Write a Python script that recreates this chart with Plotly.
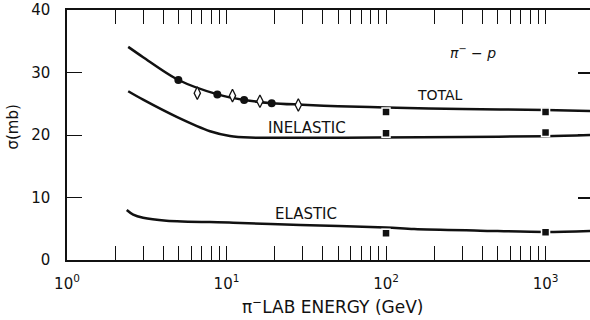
import math
import plotly.graph_objects as go

# ---- data ----
total_curve_E = [2.42, 3.0, 5.0, 8.8, 12.9, 19.2, 30, 50, 100, 300, 1000, 1900]
total_curve_s = [34.1, 32.45, 28.8, 26.5, 25.6, 25.1, 24.85, 24.6, 24.4, 24.15, 24.0, 23.85]

inel_curve_E = [2.42, 3.0, 4.87, 7.88, 10.5, 14, 30, 86, 300, 1000, 1900]
inel_curve_s = [27.0, 25.65, 22.9, 20.6, 19.85, 19.6, 19.55, 19.6, 19.7, 19.8, 20.0]

el_curve_E = [2.37, 2.6, 3.0, 4.2, 11, 29, 100, 150, 390, 1000, 1900]
el_curve_s = [8.0, 7.25, 6.75, 6.3, 5.97, 5.6, 5.2, 4.95, 4.7, 4.5, 4.65]

circ_E = [4.99, 8.76, 12.9, 19.2]
circ_s = [28.8, 26.5, 25.6, 25.07]

diam_E = [6.56, 10.9, 16.2, 28.2]
diam_s = [26.7, 26.3, 25.4, 24.8]

sq_E = [100, 1000]
sq_total = [23.7, 23.7]
sq_inel = [20.3, 20.4]
sq_el = [4.27, 4.43]

x_major = [1, 10, 100, 1000]
x_major_text = ["10<sup>0</sup>", "10<sup>1</sup>", "10<sup>2</sup>", "10<sup>3</sup>"]
y_ticks = [0, 10, 20, 30, 40]
y_right_ticks = [10, 20, 30]
x_max = 1900

# ---- figure ----
INK = "#111111"
FONT = "DejaVu Sans"

fig = go.Figure()
line_style = dict(color=INK, width=2.5, shape="spline", smoothing=0.9)
for E, s in [(total_curve_E, total_curve_s), (inel_curve_E, inel_curve_s), (el_curve_E, el_curve_s)]:
    fig.add_trace(go.Scatter(x=E, y=s, mode="lines", line=line_style, hoverinfo="skip"))

fig.add_trace(go.Scatter(x=circ_E, y=circ_s, mode="markers",
                         marker=dict(symbol="circle", size=8, color=INK, line=dict(width=0))))
fig.add_trace(go.Scatter(x=diam_E, y=diam_s, mode="markers",
                         marker=dict(symbol="diamond-tall", size=9, color="white",
                                     line=dict(color=INK, width=1.3))))
for ys in [sq_total, sq_inel, sq_el]:
    fig.add_trace(go.Scatter(x=sq_E, y=ys, mode="markers",
                             marker=dict(symbol="square", size=8, color=INK,
                                         line=dict(color="white", width=1.5))))
# empty trace to host the right-hand tick axis
fig.add_trace(go.Scatter(x=[], y=[], yaxis="y2", mode="markers"))

# x tick values: all decades 1..9
x_tickvals = []
x_ticktext = []
for d in range(0, 4):
    for m in range(1, 10):
        v = m * 10 ** d
        if v <= x_max:
            x_tickvals.append(v)
            x_ticktext.append(x_major_text[d] if m == 1 else "")

fig.update_layout(
    width=590, height=320,
    margin=dict(l=67, r=0, t=10, b=60, autoexpand=False),
    paper_bgcolor="white", plot_bgcolor="white",
    showlegend=False,
    font=dict(family=FONT, color=INK, size=14),
    xaxis=dict(type="log", range=[0, math.log10(x_max)], automargin=False,
               tickvals=x_tickvals, ticktext=x_ticktext,
               ticks="inside", ticklen=14, tickwidth=1.3, tickcolor=INK,
               showline=True, linewidth=1.5, linecolor=INK, mirror="ticks",
               showgrid=False, zeroline=False,
               tickfont=dict(size=15), ticklabelstandoff=9),
    yaxis=dict(range=[0, 40], tickvals=y_ticks, automargin=False,
               ticks="inside", ticklen=15, tickwidth=1.3, tickcolor=INK,
               showline=True, linewidth=1.5, linecolor=INK, mirror=False,
               showgrid=False, zeroline=False,
               tickfont=dict(size=15), ticklabelstandoff=12),
    yaxis2=dict(range=[0, 40], overlaying="y", side="right", anchor="x", automargin=False,
                tickvals=y_right_ticks, ticks="inside", ticklen=12, tickwidth=1.5,
                tickcolor=INK, showline=False, showticklabels=False,
                showgrid=False, zeroline=False),
)

ann = [
    dict(text="TOTAL", x=math.log10(217), y=26.4, size=14),
    dict(text="INELASTIC", x=math.log10(31.8), y=21.2, size=15),
    dict(text="ELASTIC", x=math.log10(31.5), y=7.36, size=15),
    dict(text="<i>π<sup>−</sup> − p</i>", x=math.log10(351), y=33.3, size=14),
]
for a in ann:
    fig.add_annotation(xref="x", yref="y", showarrow=False, text=a["text"],
                       x=a["x"], y=a["y"],
                       font=dict(family=FONT, size=a["size"], color=INK),
                       xanchor="center", yanchor="middle")

fig.add_annotation(text="π<sup>−</sup>LAB ENERGY (GeV)", xref="paper", yref="paper",
                   x=0.508, y=-0.184, showarrow=False, xanchor="center", yanchor="middle",
                   font=dict(family=FONT, size=17, color=INK))
fig.add_annotation(text="σ(mb)", xref="paper", yref="paper",
                   x=-0.105, y=0.53, showarrow=False, textangle=-90,
                   xanchor="center", yanchor="middle",
                   font=dict(family=FONT, size=15, color=INK))

fig.write_html("out.html",
               config={"displayModeBar": False},
               post_script="document.body.style.margin='0';document.body.style.padding='0';")
